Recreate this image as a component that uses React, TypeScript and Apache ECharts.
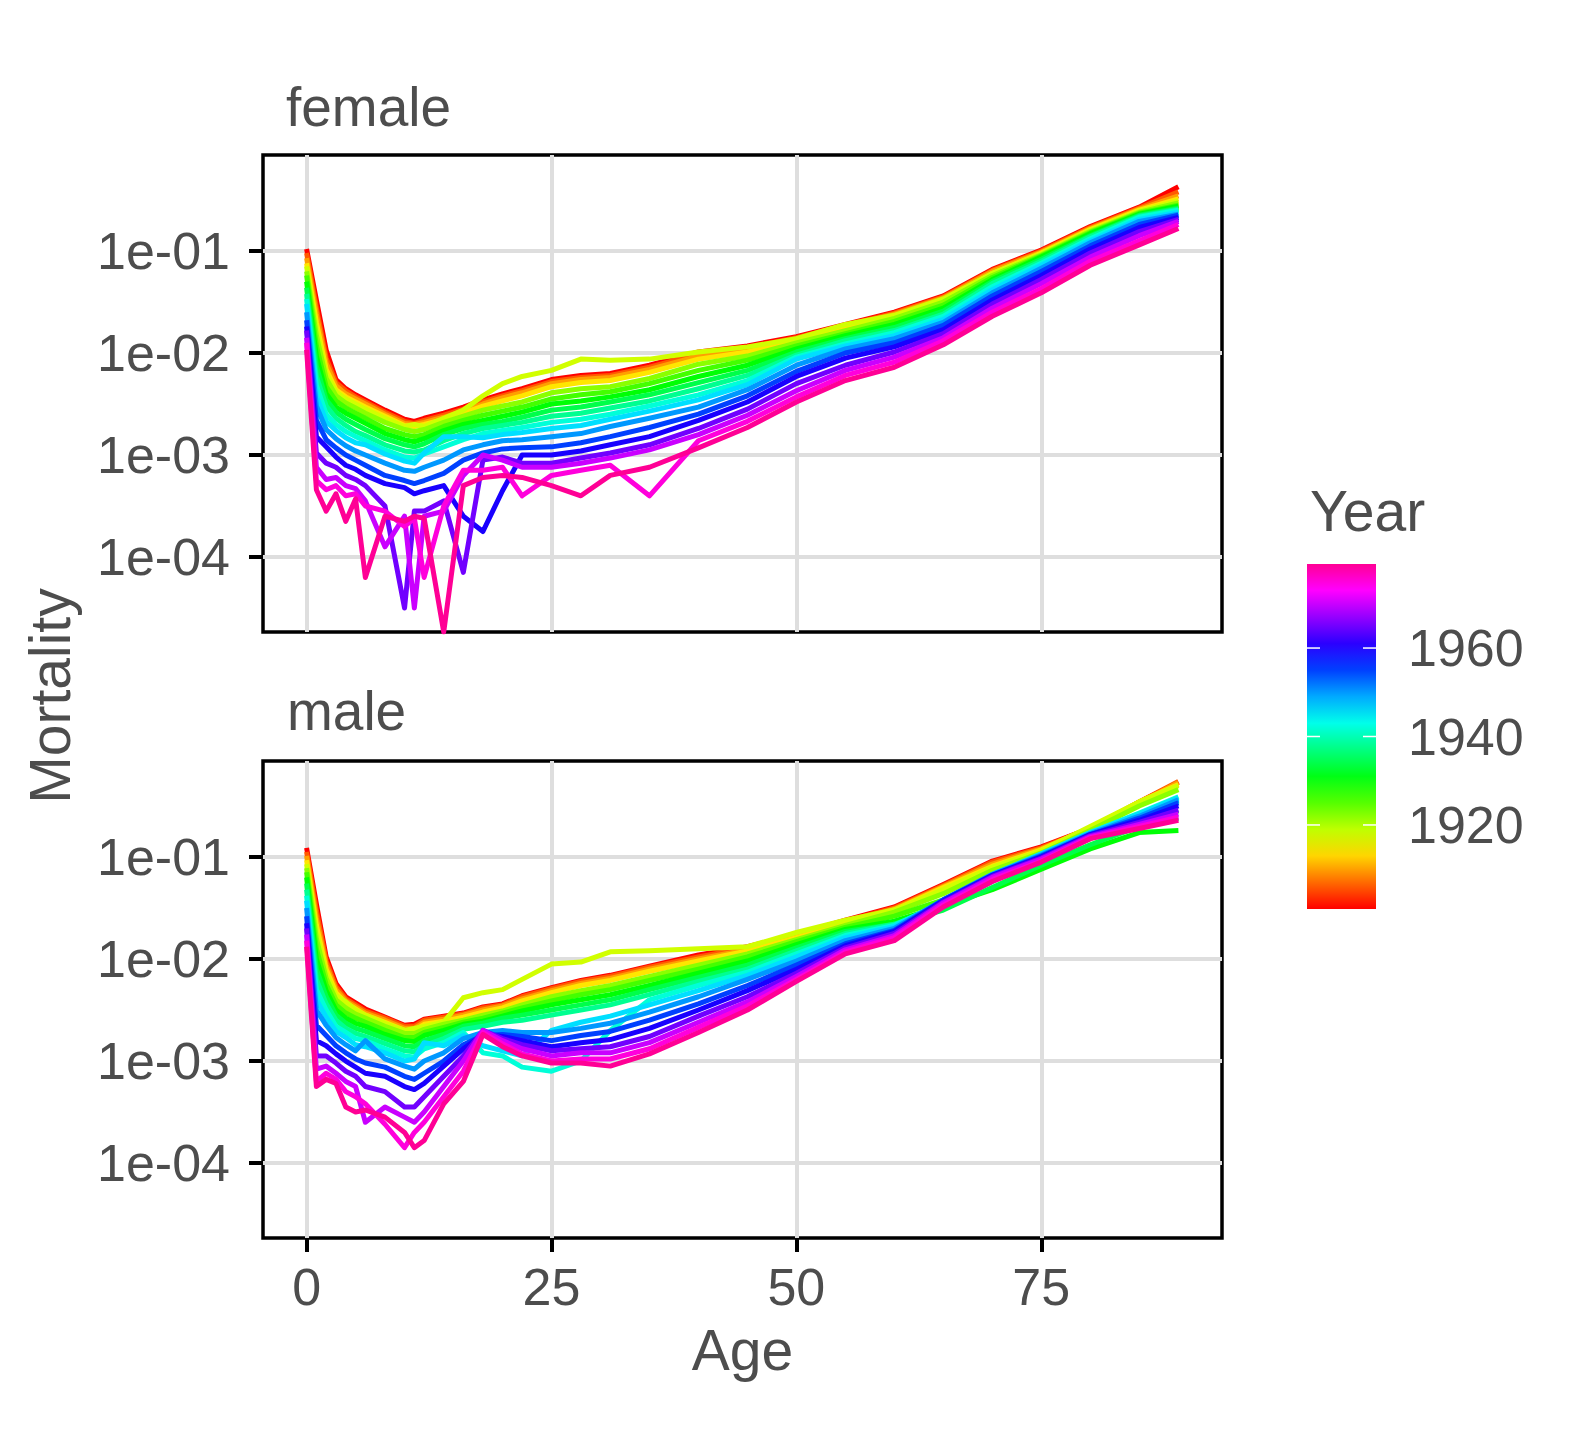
import React, { useEffect, useRef } from "react";
import * as echarts from "echarts";

const AGES = [0, 1, 2, 3, 4, 5, 6, 8, 10, 11, 12, 14, 16, 18, 20, 22, 25, 28, 31, 35, 40, 45, 50, 55, 60, 65, 70, 75, 80, 85, 89];
const YEARS = [1901, 1906, 1910, 1914, 1918, 1922, 1926, 1930, 1934, 1938, 1942, 1946, 1950, 1955, 1960, 1965, 1970, 1975, 1979];

// log10(mortality); one row per age in AGES, one column per year in YEARS
const FEMALE_LOG10 = [
  [-0.98, -1.02, -1.07, -1.12, -1.15, -1.2, -1.24, -1.3, -1.36, -1.42, -1.47, -1.52, -1.6, -1.68, -1.74, -1.78, -1.85, -1.9, -1.97],
  [-1.48, -1.56, -1.62, -1.7, -1.76, -1.83, -1.93, -2.03, -2.13, -2.23, -2.32, -2.42, -2.52, -2.66, -2.82, -2.98, -3.12, -3.25, -3.34],
  [-1.97, -2.05, -2.1, -2.16, -2.2, -2.25, -2.33, -2.4, -2.46, -2.52, -2.6, -2.67, -2.75, -2.85, -2.92, -3.08, -3.24, -3.34, -3.55],
  [-2.26, -2.29, -2.32, -2.36, -2.38, -2.42, -2.47, -2.53, -2.58, -2.64, -2.7, -2.76, -2.84, -2.93, -3.02, -3.12, -3.22, -3.3, -3.38],
  [-2.35, -2.37, -2.4, -2.43, -2.45, -2.49, -2.54, -2.59, -2.65, -2.71, -2.77, -2.83, -2.91, -3.0, -3.1, -3.2, -3.3, -3.4, -3.65],
  [-2.41, -2.43, -2.45, -2.48, -2.5, -2.54, -2.59, -2.64, -2.7, -2.77, -2.82, -2.88, -2.96, -3.05, -3.14, -3.24, -3.33, -3.38, -3.43],
  [-2.46, -2.48, -2.5, -2.53, -2.55, -2.59, -2.64, -2.69, -2.75, -2.81, -2.86, -2.9, -3.0, -3.1, -3.2, -3.3, -3.45, -3.5, -4.2],
  [-2.56, -2.58, -2.6, -2.62, -2.64, -2.68, -2.74, -2.79, -2.84, -2.9, -2.95, -2.99, -3.08, -3.2, -3.28, -3.5, -3.9, -3.55, -3.6],
  [-2.65, -2.67, -2.69, -2.71, -2.72, -2.75, -2.8, -2.85, -2.9, -2.96, -3.02, -3.06, -3.15, -3.25, -3.32, -4.5, -3.6, -3.7, -3.65],
  [-2.67, -2.69, -2.7, -2.72, -2.7, -2.77, -2.82, -2.87, -2.92, -2.97, -3.03, -3.08, -3.16, -3.28, -3.38, -3.55, -4.5, -3.62, -3.6],
  [-2.64, -2.66, -2.68, -2.7, -2.72, -2.75, -2.8, -2.84, -2.89, -2.95, -2.99, -2.98, -3.12, -3.25, -3.35, -3.55, -3.6, -4.2, -3.62],
  [-2.59, -2.61, -2.63, -2.65, -2.64, -2.68, -2.72, -2.76, -2.8, -2.86, -2.92, -2.82, -3.05, -3.18, -3.3, -3.45, -3.55, -3.5, -Infinity],
  [-2.53, -2.55, -2.57, -2.59, -2.56, -2.62, -2.66, -2.7, -2.74, -2.79, -2.85, -2.82, -2.95, -3.05, -3.6, -4.15, -3.2, -3.15, -3.3],
  [-2.46, -2.48, -2.5, -2.52, -2.42, -2.56, -2.61, -2.66, -2.7, -2.74, -2.79, -2.83, -2.9, -2.98, -3.75, -3.05, -3.0, -3.15, -3.22],
  [-2.4, -2.42, -2.44, -2.47, -2.3, -2.52, -2.57, -2.62, -2.67, -2.71, -2.76, -2.8, -2.86, -2.94, -3.35, -3.02, -3.05, -3.12, -3.2],
  [-2.35, -2.37, -2.39, -2.42, -2.23, -2.48, -2.53, -2.58, -2.63, -2.68, -2.73, -2.78, -2.85, -2.93, -3.0, -3.08, -3.12, -3.4, -3.22],
  [-2.26, -2.28, -2.3, -2.33, -2.17, -2.39, -2.45, -2.5, -2.56, -2.62, -2.68, -2.74, -2.82, -2.92, -3.0, -3.08, -3.12, -3.2, -3.3],
  [-2.22, -2.24, -2.26, -2.29, -2.06, -2.35, -2.41, -2.47, -2.53, -2.59, -2.65, -2.71, -2.79, -2.88, -2.96, -3.03, -3.08, -3.15, -3.4],
  [-2.2, -2.22, -2.24, -2.27, -2.07, -2.33, -2.38, -2.43, -2.48, -2.54, -2.6, -2.65, -2.72, -2.82, -2.9, -2.98, -3.03, -3.1, -3.2],
  [-2.12, -2.14, -2.16, -2.19, -2.06, -2.25, -2.3, -2.36, -2.41, -2.47, -2.52, -2.57, -2.64, -2.73, -2.82, -2.9, -2.95, -3.4, -3.12],
  [-1.99, -2.01, -2.03, -2.06, -1.99, -2.11, -2.17, -2.23, -2.29, -2.35, -2.41, -2.46, -2.53, -2.6, -2.66, -2.74, -2.8, -2.86, -2.93],
  [-1.93, -1.95, -1.97, -1.99, -1.94, -2.03, -2.07, -2.12, -2.17, -2.22, -2.27, -2.31, -2.36, -2.42, -2.48, -2.55, -2.61, -2.67, -2.73],
  [-1.84, -1.85, -1.86, -1.88, -1.86, -1.9, -1.93, -1.96, -1.99, -2.02, -2.04, -2.06, -2.12, -2.18, -2.23, -2.3, -2.37, -2.43, -2.48],
  [-1.72, -1.73, -1.74, -1.76, -1.72, -1.78, -1.81, -1.83, -1.86, -1.88, -1.91, -1.93, -1.96, -2.0, -2.05, -2.12, -2.17, -2.22, -2.27],
  [-1.6, -1.61, -1.62, -1.64, -1.63, -1.66, -1.69, -1.72, -1.75, -1.78, -1.8, -1.83, -1.86, -1.9, -1.94, -1.99, -2.04, -2.09, -2.14],
  [-1.44, -1.45, -1.46, -1.48, -1.47, -1.5, -1.53, -1.56, -1.59, -1.62, -1.64, -1.67, -1.7, -1.73, -1.77, -1.81, -1.85, -1.88, -1.92],
  [-1.18, -1.19, -1.2, -1.22, -1.22, -1.24, -1.26, -1.28, -1.3, -1.32, -1.35, -1.38, -1.41, -1.44, -1.48, -1.52, -1.56, -1.6, -1.64],
  [-0.99, -1.0, -1.01, -1.02, -1.03, -1.04, -1.05, -1.06, -1.08, -1.1, -1.12, -1.14, -1.17, -1.2, -1.24, -1.28, -1.32, -1.37, -1.41],
  [-0.76, -0.77, -0.78, -0.79, -0.8, -0.81, -0.82, -0.83, -0.85, -0.86, -0.88, -0.9, -0.92, -0.95, -0.98, -1.02, -1.06, -1.1, -1.14],
  [-0.57, -0.58, -0.59, -0.6, -0.61, -0.62, -0.63, -0.64, -0.65, -0.66, -0.67, -0.69, -0.71, -0.74, -0.77, -0.81, -0.85, -0.9, -0.94],
  [-0.37, -0.42, -0.46, -0.49, -0.51, -0.53, -0.55, -0.56, -0.58, -0.59, -0.6, -0.62, -0.64, -0.65, -0.67, -0.69, -0.71, -0.74, -0.78],
];

const MALE_LOG10 = [
  [-0.91, -0.95, -0.99, -1.03, -1.07, -1.11, -1.15, -1.2, -1.26, -1.32, -1.38, -1.43, -1.5, -1.58, -1.65, -1.7, -1.76, -1.82, -1.88],
  [-1.46, -1.53, -1.6, -1.67, -1.73, -1.8, -1.9, -2.0, -2.1, -2.2, -2.3, -2.4, -2.5, -2.65, -2.8, -2.95, -3.08, -3.2, -3.25],
  [-1.98, -2.02, -2.06, -2.1, -2.14, -2.19, -2.25, -2.31, -2.37, -2.44, -2.5, -2.57, -2.65, -2.75, -2.85, -2.95, -3.05, -3.12, -3.18],
  [-2.24, -2.27, -2.3, -2.33, -2.36, -2.4, -2.45, -2.5, -2.55, -2.6, -2.66, -2.71, -2.77, -2.85, -2.93, -3.02, -3.12, -3.18, -3.22],
  [-2.37, -2.39, -2.41, -2.43, -2.42, -2.48, -2.53, -2.58, -2.63, -2.68, -2.72, -2.77, -2.84, -2.92, -3.0, -3.1, -3.2, -3.3, -3.45],
  [-2.43, -2.45, -2.47, -2.49, -2.5, -2.54, -2.58, -2.63, -2.68, -2.73, -2.78, -2.84, -2.9, -2.98, -3.06, -3.15, -3.25, -3.35, -3.5],
  [-2.49, -2.51, -2.53, -2.55, -2.55, -2.58, -2.62, -2.66, -2.71, -2.76, -2.8, -2.86, -2.8, -3.02, -3.12, -3.25, -3.6, -3.42, -3.48],
  [-2.57, -2.58, -2.6, -2.62, -2.63, -2.66, -2.7, -2.74, -2.78, -2.83, -2.88, -2.92, -2.98, -3.06, -3.15, -3.3, -3.45, -3.62, -3.55],
  [-2.65, -2.66, -2.68, -2.7, -2.7, -2.73, -2.77, -2.8, -2.85, -2.9, -2.95, -3.0, -3.05, -3.15, -3.25, -3.45, -3.55, -3.85, -3.7],
  [-2.64, -2.66, -2.68, -2.7, -2.68, -2.73, -2.77, -2.81, -2.86, -2.91, -2.96, -2.98, -3.08, -3.18, -3.28, -3.45, -3.6, -3.7, -3.85],
  [-2.59, -2.6, -2.62, -2.64, -2.66, -2.69, -2.72, -2.75, -2.8, -2.85, -2.88, -2.82, -3.0, -3.12, -3.22, -3.35, -3.5, -3.6, -3.78],
  [-2.56, -2.57, -2.59, -2.61, -2.62, -2.64, -2.67, -2.7, -2.74, -2.78, -2.82, -2.85, -2.92, -3.0, -3.05, -3.15, -3.25, -3.35, -3.42],
  [-2.53, -2.54, -2.55, -2.57, -2.38, -2.6, -2.62, -2.64, -2.66, -2.69, -2.72, -2.75, -2.78, -2.84, -2.88, -2.95, -3.0, -3.1, -3.2],
  [-2.47, -2.48, -2.5, -2.52, -2.33, -2.55, -2.58, -2.61, -2.63, -2.66, -2.92, -2.85, -2.72, -2.75, -2.74, -2.7, -2.7, -2.72, -2.74],
  [-2.44, -2.45, -2.46, -2.48, -2.3, -2.51, -2.53, -2.56, -2.58, -2.62, -2.95, -2.9, -2.7, -2.74, -2.76, -2.78, -2.8, -2.83, -2.86],
  [-2.36, -2.37, -2.39, -2.41, -2.2, -2.45, -2.48, -2.51, -2.55, -2.6, -3.06, -2.95, -2.72, -2.76, -2.8, -2.84, -2.88, -2.93, -2.95],
  [-2.28, -2.29, -2.31, -2.33, -2.05, -2.37, -2.41, -2.45, -2.5, -2.55, -3.1, -2.7, -2.72, -2.8, -2.86, -2.9, -2.95, -3.0, -3.02],
  [-2.21, -2.22, -2.24, -2.26, -2.03, -2.31, -2.35, -2.4, -2.45, -2.5, -3.0, -2.62, -2.68, -2.75, -2.82, -2.88, -2.92, -2.98, -3.02],
  [-2.16, -2.17, -2.19, -2.21, -1.93, -2.26, -2.3, -2.35, -2.4, -2.45, -2.7, -2.56, -2.63, -2.71, -2.79, -2.86, -2.92, -2.98, -3.05],
  [-2.07, -2.08, -2.1, -2.12, -1.92, -2.17, -2.21, -2.26, -2.3, -2.35, -2.4, -2.45, -2.52, -2.6, -2.68, -2.76, -2.82, -2.88, -2.93],
  [-1.96, -1.98, -2.0, -2.02, -1.9, -2.06, -2.1, -2.14, -2.18, -2.22, -2.26, -2.31, -2.37, -2.44, -2.5, -2.56, -2.62, -2.67, -2.72],
  [-1.88, -1.89, -1.91, -1.92, -1.88, -1.95, -1.98, -2.02, -2.06, -2.1, -2.13, -2.16, -2.2, -2.26, -2.31, -2.37, -2.42, -2.46, -2.5],
  [-1.76, -1.77, -1.78, -1.79, -1.74, -1.81, -1.83, -1.86, -1.89, -1.92, -1.95, -1.98, -2.02, -2.06, -2.1, -2.14, -2.17, -2.2, -2.22],
  [-1.62, -1.63, -1.64, -1.65, -1.62, -1.67, -1.69, -1.71, -1.73, -1.75, -1.77, -1.79, -1.82, -1.85, -1.87, -1.89, -1.91, -1.93, -1.95],
  [-1.49, -1.5, -1.51, -1.52, -1.52, -1.54, -1.58, -1.63, -1.66, -1.66, -1.67, -1.68, -1.7, -1.72, -1.73, -1.75, -1.77, -1.79, -1.82],
  [-1.27, -1.28, -1.29, -1.3, -1.32, -1.36, -1.42, -1.48, -1.52, -1.48, -1.45, -1.43, -1.42, -1.42, -1.43, -1.44, -1.45, -1.47, -1.49],
  [-1.04, -1.05, -1.07, -1.09, -1.1, -1.13, -1.22, -1.32, -1.3, -1.24, -1.19, -1.17, -1.17, -1.18, -1.18, -1.19, -1.2, -1.22, -1.24],
  [-0.9, -0.91, -0.92, -0.93, -0.94, -0.96, -1.03, -1.12, -1.08, -1.02, -0.97, -0.97, -0.98, -0.99, -1.0, -1.01, -1.02, -1.04, -1.05],
  [-0.72, -0.72, -0.72, -0.71, -0.7, -0.74, -0.82, -0.92, -0.88, -0.8, -0.76, -0.76, -0.77, -0.78, -0.78, -0.79, -0.8, -0.81, -0.82],
  [-0.46, -0.46, -0.47, -0.46, -0.46, -0.5, -0.62, -0.76, -0.7, -0.6, -0.57, -0.58, -0.6, -0.62, -0.64, -0.66, -0.68, -0.7, -0.72],
  [-0.27, -0.26, -0.27, -0.29, -0.3, -0.34, -0.55, -0.74, -0.62, -0.45, -0.41, -0.42, -0.44, -0.47, -0.5, -0.54, -0.58, -0.61, -0.64],
];

const PANELS = ["female", "male"];
const X_TICKS = [0, 25, 50, 75];
const Y_TICKS = [-4, -3, -2, -1];
const LEGEND_TICKS = [1920, 1940, 1960];
const YEAR_MIN = 1901;
const YEAR_MAX = 1979;

const X_MIN = -4.45;
const X_MAX = 93.45;
const Y_MIN = -4.735;
const Y_MAX = -0.059;

const FONT = "'Liberation Sans', Arial, Helvetica, sans-serif";
const TEXT = "#4D4D4D";
const PANEL_LEFT = 263;
const PANEL_W = 959;
const PANEL_H = 477;
const PANEL_TOPS = [155, 761];
const BAR = { x: 1307, y: 564, w: 69, h: 345 };

// rainbow hue from red (first year) to pink (last year)
const yearColor = (year: number) => {
  const h = ((year - YEAR_MIN) / (YEAR_MAX - YEAR_MIN)) * 325;
  const f = (n: number) => {
    const k = (n + h / 60) % 6;
    return 1 - Math.max(Math.min(k, 4 - k, 1), 0);
  };
  const hex = (v: number) => Math.round(v * 255).toString(16).padStart(2, "0");
  return "#" + hex(f(5)) + hex(f(3)) + hex(f(1));
};

const App = () => {
  const chartRef = useRef<HTMLDivElement>(null);

  useEffect(() => {
    if (!chartRef.current) return;
    const chart = echarts.init(chartRef.current, undefined, { renderer: "svg" });

    const grid = PANEL_TOPS.map((top) => ({
      left: PANEL_LEFT,
      top,
      width: PANEL_W,
      height: PANEL_H,
      show: true,
      borderColor: "#000",
      borderWidth: 3.5,
      backgroundColor: "transparent",
    }));

    const xAxis = PANEL_TOPS.map((_, i) => ({
      type: "value",
      gridIndex: i,
      position: "bottom",
      min: X_MIN,
      max: X_MAX,
      axisLine: { show: false, onZero: false },
      axisTick: {
        show: i === 1,
        customValues: X_TICKS,
        length: 14,
        lineStyle: { color: "#000", width: 4 },
      },
      axisLabel: {
        show: i === 1,
        customValues: X_TICKS,
        margin: 23,
        fontSize: 52,
        fontFamily: FONT,
        color: TEXT,
      },
      splitLine: { show: true, lineStyle: { color: "#DEDEDE", width: 4 } },
    }));

    const yAxis = PANEL_TOPS.map((_, i) => ({
      type: "value",
      gridIndex: i,
      position: "left",
      min: Y_MIN,
      max: Y_MAX,
      axisLine: { show: false, onZero: false },
      axisTick: {
        show: true,
        customValues: Y_TICKS,
        length: 14,
        lineStyle: { color: "#000", width: 4 },
      },
      axisLabel: {
        customValues: Y_TICKS,
        formatter: (v: number) => "1e-" + String(Math.round(-v)).padStart(2, "0"),
        margin: 33,
        fontSize: 52,
        fontFamily: FONT,
        color: TEXT,
      },
      splitLine: { show: true, lineStyle: { color: "#DEDEDE", width: 4 } },
    }));

    const series: any[] = [];
    [FEMALE_LOG10, MALE_LOG10].forEach((rows, g) => {
      YEARS.forEach((year, j) => {
        series.push({
          type: "line",
          name: PANELS[g] + " " + year,
          xAxisIndex: g,
          yAxisIndex: g,
          showSymbol: false,
          symbol: "none",
          silent: true,
          clip: true,
          lineStyle: { color: yearColor(year), width: 5, join: "round" },
          // a zero rate (log10 = -Infinity) is drawn at the panel's lower edge
          data: AGES.map((age, i) => [age, Math.max(rows[i][j], Y_MIN)]),
        });
      });
    });

    const stops = Array.from({ length: 14 }, (_, k) => ({
      offset: k / 13,
      color: yearColor(YEAR_MIN + (k / 13) * (YEAR_MAX - YEAR_MIN)),
    }));
    const barY = (year: number) =>
      BAR.y + BAR.h - ((year - YEAR_MIN) / (YEAR_MAX - YEAR_MIN)) * BAR.h;

    const graphic: any[] = [
      {
        type: "text",
        x: 286,
        y: 107,
        style: { text: "female", font: `55px ${FONT}`, fill: TEXT, align: "left", verticalAlign: "middle" },
      },
      {
        type: "text",
        x: 287,
        y: 711,
        style: { text: "male", font: `55px ${FONT}`, fill: TEXT, align: "left", verticalAlign: "middle" },
      },
      {
        type: "text",
        x: PANEL_LEFT + PANEL_W / 2,
        y: 1350,
        style: { text: "Age", font: `57px ${FONT}`, fill: TEXT, align: "center", verticalAlign: "middle" },
      },
      {
        type: "text",
        x: 50,
        y: 696,
        rotation: Math.PI / 2,
        style: { text: "Mortality", font: `57px ${FONT}`, fill: TEXT, align: "center", verticalAlign: "middle" },
      },
      {
        type: "text",
        x: 1310,
        y: 511,
        style: { text: "Year", font: `57px ${FONT}`, fill: TEXT, align: "left", verticalAlign: "middle" },
      },
      {
        type: "rect",
        shape: { x: BAR.x, y: BAR.y, width: BAR.w, height: BAR.h },
        style: { fill: new echarts.graphic.LinearGradient(0, 1, 0, 0, stops) },
      },
    ];
    LEGEND_TICKS.forEach((t) => {
      const y = barY(t);
      graphic.push(
        {
          type: "polyline",
          shape: { points: [[BAR.x, y], [BAR.x + 13, y]] },
          style: { stroke: "#fff", lineWidth: 1.5, fill: null },
        },
        {
          type: "polyline",
          shape: { points: [[BAR.x + BAR.w - 13, y], [BAR.x + BAR.w, y]] },
          style: { stroke: "#fff", lineWidth: 1.5, fill: null },
        },
        {
          type: "text",
          x: 1408,
          y,
          style: { text: String(t), font: `52px ${FONT}`, fill: TEXT, align: "left", verticalAlign: "middle" },
        }
      );
    });

    chart.setOption({
      backgroundColor: "#fff",
      animation: false,
      grid,
      xAxis,
      yAxis,
      series,
      graphic,
    });

    return () => {
      chart.dispose();
    };
  }, []);

  return (
    <div
      ref={chartRef}
      style={{ position: "absolute", left: 0, top: 0, width: 1584, height: 1440, background: "#fff" }}
    />
  );
};

export default App;
